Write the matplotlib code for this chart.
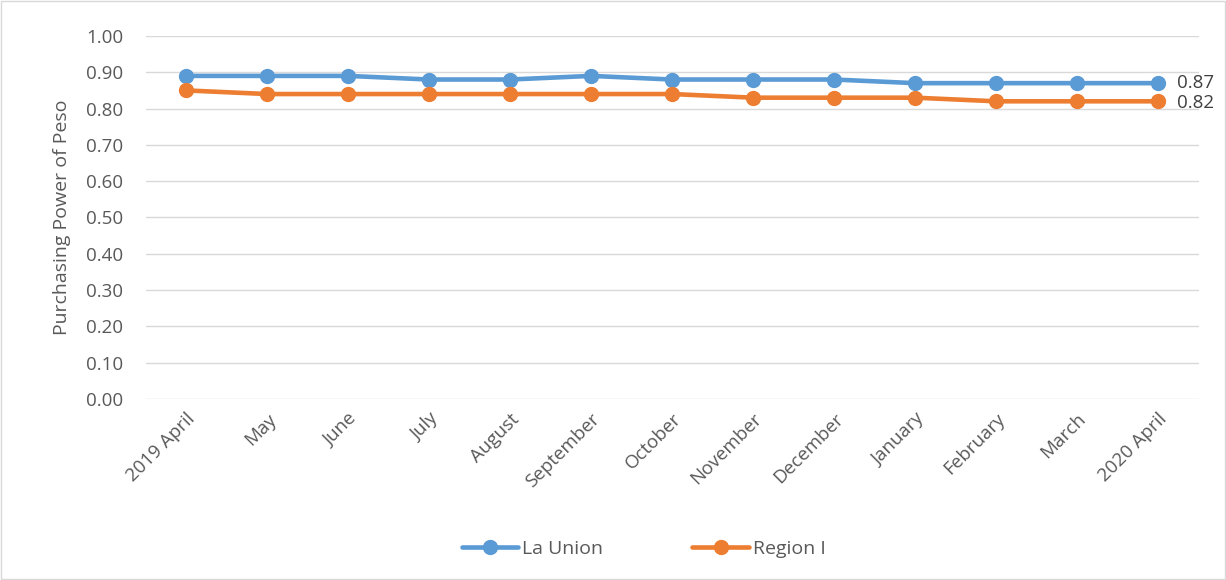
import matplotlib.pyplot as plt
from matplotlib.patches import Rectangle

plt.rcParams["font.family"] = ["Open Sans", "DejaVu Sans"]

months = ["2019 April", "May", "June", "July", "August", "September", "October",
          "November", "December", "January", "February", "March", "2020 April"]
la_union = [0.89, 0.89, 0.89, 0.88, 0.88, 0.89, 0.88, 0.88, 0.88, 0.87, 0.87, 0.87, 0.87]
region_1 = [0.85, 0.84, 0.84, 0.84, 0.84, 0.84, 0.84, 0.83, 0.83, 0.83, 0.82, 0.82, 0.82]

BLUE = "#5B9BD5"
ORANGE = "#ED7D31"
TEXT = "#595959"
GRID = "#D9D9D9"

fg = plt.figure(figsize=(12.26, 5.8), dpi=100)
ax = fg.add_axes([0.1187, 0.3121, 0.8589, 0.6259])

x = list(range(len(months)))
ax.plot(x, la_union, color=BLUE, lw=3.3, marker="o", ms=10, label="La Union",
        solid_capstyle="round", zorder=3)
ax.plot(x, region_1, color=ORANGE, lw=3.3, marker="o", ms=10, label="Region I",
        solid_capstyle="round", zorder=3)

# end-of-line value labels
ax.annotate(f"{la_union[-1]:.2f}", (x[-1], la_union[-1]), xytext=(14, 0),
            textcoords="offset points", va="center", ha="left", fontsize=13.5, color="#404040")
ax.annotate(f"{region_1[-1]:.2f}", (x[-1], region_1[-1]), xytext=(14, -1),
            textcoords="offset points", va="center", ha="left", fontsize=13.5, color="#404040")

ax.set_xlim(-0.5, len(months) - 0.5)
ax.set_ylim(0, 1.0)
ax.set_yticks([i / 10 for i in range(11)])
ax.set_yticklabels([f"{i / 10:.2f}" for i in range(11)])
ax.set_xticks(x)
ax.set_xticklabels(months, rotation=45, ha="right", rotation_mode="anchor")
ax.tick_params(axis="both", length=0, colors=TEXT, labelsize=13.5)
ax.tick_params(axis="x", pad=8)
ax.tick_params(axis="y", pad=16)
ax.grid(axis="y", color=GRID, lw=1)
ax.set_axisbelow(True)
for s in ax.spines.values():
    s.set_visible(False)

ax.set_ylabel("Purchasing Power of Peso", fontsize=14, color=TEXT, labelpad=11)

ax.legend(loc="center", bbox_to_anchor=(0.473, -0.413), ncol=2, frameon=False,
          fontsize=14, labelcolor=TEXT, handlelength=2.9, columnspacing=4.6,
          handletextpad=0.2)

fg.patches.append(Rectangle((0.001, 0.001), 0.998, 0.997, transform=fg.transFigure,
                            fill=False, edgecolor="#D9D9D9", lw=1))

fg.savefig("out.png", dpi=100)
